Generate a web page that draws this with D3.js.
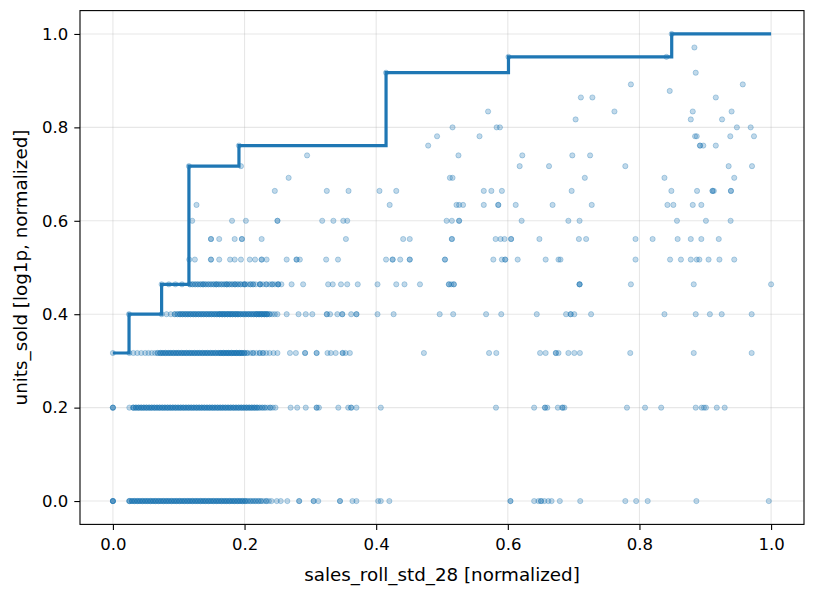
<!DOCTYPE html>
<html><head><meta charset="utf-8">
<script src="https://cdn.jsdelivr.net/npm/d3@7"></script>
<style>body{margin:0;background:#fff}svg{display:block}text{font-family:"DejaVu Sans",sans-serif}</style>
</head><body><svg id="c" width="814" height="592"></svg>
<script>
// ---------------- data ----------------
const xTicks = [0.0, 0.2, 0.4, 0.6, 0.8, 1.0];
const yTicks = [0.0, 0.2, 0.4, 0.6, 0.8, 1.0];
const xLabel = "sales_roll_std_28 [normalized]";
const yLabel = "units_sold [log1p, normalized]";

// y level of each dense row
const rowY = [0.000, 0.200, 0.317, 0.400, 0.464, 0.517, 0.561, 0.600, 0.634, 0.664, 0.692];

// rows: [x, number of observations at that x]
const row0 = [[0,4],
 [0.025,3],[0.029,3],[0.033,3],[0.037,3],[0.041,3],[0.045,3],[0.049,3],[0.053,3],[0.057,3],[0.061,3],[0.065,3],[0.069,3],[0.073,3],[0.077,3],[0.081,3],[0.085,3],[0.089,3],[0.093,3],[0.097,3],[0.101,3],[0.105,3],[0.109,3],[0.113,3],[0.117,3],[0.121,3],[0.125,3],[0.129,3],[0.133,3],[0.137,3],[0.141,3],[0.145,3],[0.149,3],[0.153,3],[0.157,3],[0.161,3],[0.165,3],[0.169,3],[0.173,3],[0.177,3],[0.181,3],[0.185,3],[0.189,3],[0.193,3],[0.197,3],[0.201,3],
 [0.205,2],[0.209,2],[0.213,2],[0.217,2],[0.221,2],[0.225,2],[0.229,1],[0.233,2],[0.237,1],[0.241,1],
 [0.249,1],[0.255,1],[0.265,1],[0.283,2],[0.305,2],[0.312,1],[0.345,2],[0.364,1],[0.370,1],[0.403,1],[0.407,1],[0.420,1],
 [0.604,2],[0.640,1],[0.6465,1],[0.6505,2],[0.6555,1],[0.6615,1],[0.6665,1],[0.679,1],[0.710,1],[0.7785,1],[0.795,1],[0.8125,1],[0.8865,1],[0.9965,1]];

const row1 = [[0,3],[0.025,1],
 [0.031,3],[0.035,3],[0.039,3],[0.043,3],[0.047,3],[0.051,3],[0.055,3],[0.059,3],[0.063,3],[0.067,3],[0.071,3],[0.075,3],[0.079,3],[0.083,3],[0.087,3],[0.091,3],[0.095,3],[0.099,3],[0.103,3],[0.107,3],[0.111,3],[0.115,3],[0.119,3],[0.123,3],[0.127,3],[0.131,3],[0.135,3],[0.139,3],[0.143,3],[0.147,3],[0.151,3],[0.155,3],[0.159,3],[0.163,3],[0.167,3],[0.171,3],[0.175,3],[0.179,3],[0.183,3],[0.187,3],[0.191,3],[0.195,3],[0.199,3],[0.203,3],[0.207,3],[0.211,3],[0.215,3],[0.219,3],
 [0.223,2],[0.227,2],[0.231,2],[0.235,1],[0.239,2],[0.243,1],[0.247,1],
 [0.270,1],[0.280,1],[0.293,1],[0.3095,2],[0.313,1],[0.3425,1],[0.3575,1],[0.362,2],[0.370,1],[0.407,1],
 [0.582,1],[0.640,1],[0.6565,2],[0.660,1],[0.676,1],[0.683,2],[0.686,1],[0.781,1],[0.8085,1],[0.833,1],[0.8855,1],[0.8945,1],[0.898,1],[0.901,1],[0.9175,1],[0.9295,1]];

const row2 = [[0,1],[0.025,1],[0.031,1],[0.037,1],[0.043,1],[0.049,1],[0.054,1],[0.059,1],[0.064,1],
 [0.068,2],[0.072,3],[0.076,3],[0.080,3],[0.084,3],[0.088,3],[0.092,3],[0.096,3],[0.100,3],[0.104,3],[0.108,3],[0.112,3],[0.116,3],[0.120,3],[0.124,3],[0.128,3],[0.132,3],[0.136,3],[0.140,3],[0.144,3],[0.148,3],[0.152,3],[0.156,3],[0.160,3],[0.164,4],[0.168,4],[0.172,4],[0.176,4],[0.180,4],[0.184,4],[0.188,4],[0.192,4],[0.196,4],[0.200,3],
 [0.204,2],[0.209,1],[0.213,2],[0.218,1],[0.223,2],[0.228,2],[0.233,1],[0.238,1],[0.244,1],[0.250,1],
 [0.269,1],[0.278,1],[0.292,2],[0.3095,2],[0.326,1],[0.331,1],[0.3385,1],[0.349,2],[0.3535,1],[0.360,1],[0.4725,1],[0.5715,1],[0.5825,1],[0.649,1],[0.6575,1],[0.673,2],[0.677,1],[0.692,1],[0.701,1],[0.7095,1],[0.786,1],[0.8825,1],[0.9705,1]];

const row3 = [[0.0245,1],[0.074,1],[0.0815,1],[0.088,1],
 [0.094,2],[0.098,2],[0.102,3],[0.106,3],[0.110,3],[0.114,3],[0.118,3],[0.122,3],[0.126,3],[0.130,3],[0.134,3],[0.138,3],[0.142,3],[0.146,3],[0.150,3],[0.154,3],[0.158,3],[0.162,4],[0.166,4],[0.170,4],[0.174,4],[0.178,4],[0.182,4],[0.186,4],[0.190,4],[0.194,3],[0.198,3],[0.202,3],[0.206,3],[0.210,3],[0.214,3],[0.218,4],[0.222,4],[0.226,4],[0.230,4],[0.234,4],[0.238,2],[0.242,1],[0.246,1],[0.250,1],
 [0.264,1],[0.282,1],[0.293,1],[0.303,1],[0.325,2],[0.330,1],[0.341,1],[0.3485,2],[0.362,1],[0.370,2],[0.402,1],[0.4265,1],[0.4965,1],[0.517,1],[0.567,1],[0.590,1],[0.644,1],[0.6885,1],[0.6955,2],[0.701,1],[0.7265,1],[0.838,1],[0.8855,1],[0.907,1],[0.925,1],[0.9705,1]];

const row4 = [[0.074,1],[0.085,1],[0.095,1],[0.105,1],
 [0.117,2],[0.121,2],[0.125,2],[0.129,2],[0.133,2],[0.137,3],[0.141,2],[0.145,2],[0.149,2],[0.153,2],[0.157,3],[0.161,2],[0.165,2],[0.169,2],[0.173,3],[0.177,2],[0.181,2],[0.1855,3],[0.190,2],[0.194,2],[0.198,1],[0.2005,3],[0.205,1],[0.209,2],[0.213,2],[0.217,1],[0.2235,3],[0.228,1],[0.233,2],[0.238,1],[0.242,2],[0.246,1],[0.251,3],[0.256,1],
 [0.2715,1],[0.289,1],[0.327,1],[0.334,1],[0.3465,1],[0.356,1],[0.372,1],[0.402,1],[0.4305,1],[0.443,1],[0.4665,1],[0.5105,2],[0.514,1],[0.518,2],[0.709,3],[0.787,1],[0.8825,1],[1.0,1]];

const row5 = [[0.116,1],[0.1245,1],[0.149,2],[0.1615,1],[0.178,1],[0.185,1],[0.1945,1],[0.208,1],[0.216,1],[0.226,2],[0.2335,1],[0.264,1],[0.279,2],[0.284,1],[0.324,1],[0.342,1],[0.415,1],[0.425,2],[0.4365,1],[0.451,2],[0.5045,2],[0.578,1],[0.591,1],[0.596,2],[0.615,1],[0.6575,1],[0.677,1],[0.680,1],[0.794,1],[0.8465,1],[0.863,1],[0.878,1],[0.887,1],[0.891,1],[0.905,1],[0.9215,1],[0.944,1]];

const row6 = [[0.149,2],[0.1615,1],[0.185,1],[0.196,2],[0.226,1],[0.354,1],[0.441,1],[0.451,1],[0.515,2],[0.5815,1],[0.589,1],[0.595,1],[0.605,2],[0.648,1],[0.708,1],[0.719,1],[0.794,1],[0.820,1],[0.858,1],[0.878,1],[0.894,1],[0.9205,1]];

const row7 = [[0.1205,1],[0.181,1],[0.202,1],[0.250,2],[0.318,1],[0.335,1],[0.350,1],[0.356,1],[0.507,1],[0.515,1],[0.526,2],[0.621,1],[0.692,1],[0.709,1],[0.857,1],[0.901,1],[0.9385,1]];

const row8 = [[0.127,1],[0.4205,1],[0.522,1],[0.526,1],[0.532,1],[0.5635,1],[0.5855,2],[0.612,1],[0.668,1],[0.7275,1],[0.8425,1],[0.8515,1],[0.881,1],[0.894,1]];

const row9 = [[0.246,1],[0.325,1],[0.358,1],[0.405,1],[0.4305,1],[0.5635,1],[0.575,1],[0.591,1],[0.697,1],[0.8485,1],[0.8875,1],[0.911,2],[0.913,1],[0.939,2]];

const row10 = [[0.267,1],[0.512,1],[0.516,1],[0.717,1],[0.838,1],[0.944,1]];

// sparse high points: [x, y]
const topPts = [
 [0.1155,0.717],[0.1945,0.717],[0.618,0.717],[0.6626,0.717],[0.7785,0.717],[0.9355,0.717],[0.971,0.717],
 [0.295,0.740],[0.525,0.740],[0.622,0.740],[0.698,0.740],[0.725,0.740],
 [0.1915,0.761],[0.479,0.761],[0.892,0.761],[0.892,0.761],[0.897,0.761],[0.916,0.761],
 [0.4925,0.781],[0.557,0.781],[0.8845,0.781],[0.887,0.781],[0.938,0.781],[0.974,0.781],
 [0.516,0.800],[0.583,0.800],[0.588,0.800],[0.948,0.800],[0.969,0.800],
 [0.703,0.817],[0.878,0.817],[0.9255,0.817],
 [0.570,0.834],[0.762,0.834],[0.881,0.834],[0.940,0.834],
 [0.711,0.864],[0.7285,0.864],[0.916,0.864],
 [0.846,0.878],
 [0.787,0.892],[0.957,0.892],
 [0.415,0.917],[0.8855,0.917],
 [0.601,0.951],[0.841,0.951],
 [0.8835,0.971],
 [0.849,1.000]
];

// ---------------- build ----------------
const rows = [row0,row1,row2,row3,row4,row5,row6,row7,row8,row9,row10];
const points = [];
rows.forEach((r,i)=>r.forEach(([x,n])=>{for(let j=0;j<n;j++) points.push({x, y: rowY[i]});}));
topPts.forEach(([x,y])=>points.push({x,y}));

const svg = d3.select("#c");
const L=80, R=804, T=10.6, B=524.4;
const xs = d3.scaleLinear().domain([-0.05,1.05]).range([L,R]);
const ys = d3.scaleLinear().domain([-0.05,1.05]).range([B,T]);
const blue = "#1f77b4";

// grid
const g = svg.append("g");
g.selectAll(".gx").data(xTicks).join("line")
 .attr("x1",d=>xs(d)).attr("x2",d=>xs(d)).attr("y1",T).attr("y2",B)
 .attr("stroke","#b0b0b0").attr("stroke-opacity",0.3).attr("stroke-width",1.1);
g.selectAll(".gy").data(yTicks).join("line")
 .attr("y1",d=>ys(d)).attr("y2",d=>ys(d)).attr("x1",L).attr("x2",R)
 .attr("stroke","#b0b0b0").attr("stroke-opacity",0.3).attr("stroke-width",1.1);

// scatter
svg.append("g").selectAll("circle").data(points).join("circle")
 .attr("cx",d=>xs(d.x)).attr("cy",d=>ys(d.y)).attr("r",2.6)
 .attr("fill",blue).attr("fill-opacity",0.28)
 .attr("stroke",blue).attr("stroke-opacity",0.3).attr("stroke-width",1);

// running max step line
const sorted = points.slice().sort((a,b)=>a.x-b.x || b.y-a.y);
const stepPts = [];
let cur = -Infinity;
sorted.forEach(p=>{ if(p.y>cur){ cur=p.y; stepPts.push([p.x,p.y]); } });
stepPts.push([sorted[sorted.length-1].x, cur]);
svg.append("path").datum(stepPts)
 .attr("d", d3.line().x(d=>xs(d[0])).y(d=>ys(d[1])).curve(d3.curveStepAfter))
 .attr("fill","none").attr("stroke",blue).attr("stroke-width",3.2);

// axes
const fmt = d3.format(".1f");
const ax = svg.append("g").attr("transform",`translate(0,${B})`)
 .call(d3.axisBottom(xs).tickValues(xTicks).tickFormat(fmt).tickSize(5.7).tickPadding(8.5));
const ay = svg.append("g").attr("transform",`translate(${L},0)`)
 .call(d3.axisLeft(ys).tickValues(yTicks).tickFormat(fmt).tickSize(5.7).tickPadding(6));
[ax,ay].forEach(a=>{
 a.select(".domain").remove();
 a.selectAll("line").attr("stroke","#000").attr("stroke-width",1.1);
 a.selectAll("text").attr("font-size",16.5).attr("font-family","DejaVu Sans").attr("fill","#000");
});
svg.append("rect").attr("x",L).attr("y",T).attr("width",R-L).attr("height",B-T)
 .attr("fill","none").attr("stroke","#000").attr("stroke-width",1.1);

svg.append("text").attr("x",(L+R)/2).attr("y",581).attr("text-anchor","middle")
 .attr("font-size",18.3).attr("fill","#000").text(xLabel);
svg.append("text").attr("transform",`translate(27,${(T+B)/2}) rotate(-90)`).attr("text-anchor","middle")
 .attr("font-size",18.3).attr("fill","#000").text(yLabel);
</script></body></html>
